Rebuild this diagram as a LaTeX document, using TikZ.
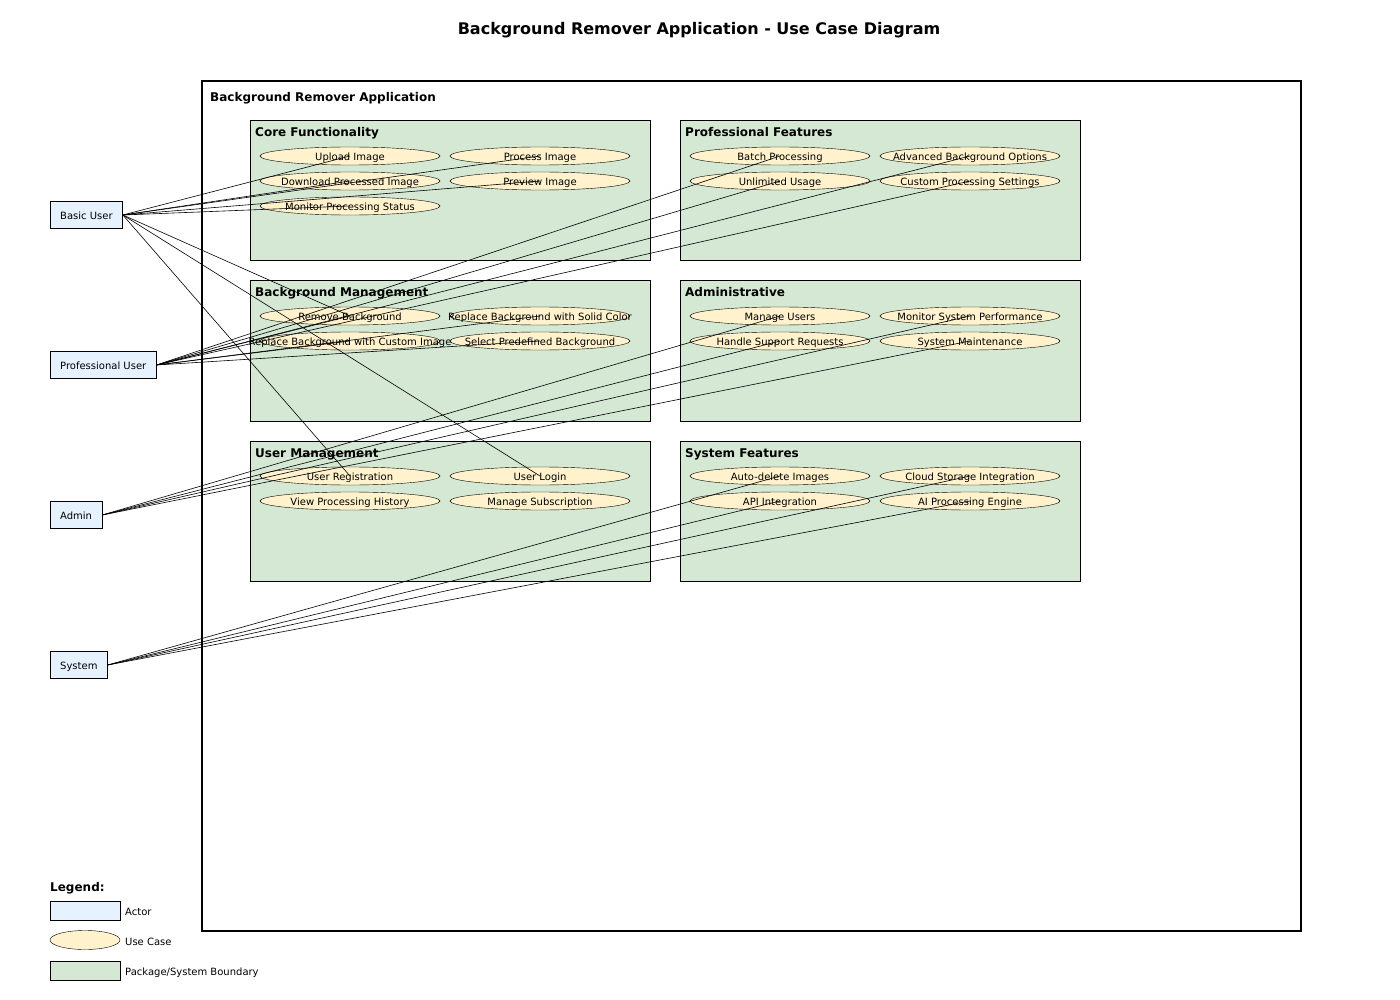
\documentclass[tikz,border=0pt]{standalone}
\usepackage{fontspec}
\setmainfont{DejaVu Sans}
\usetikzlibrary{shapes.geometric}

\definecolor{actorfill}{HTML}{E6F2FF}
\definecolor{ucfill}{HTML}{FFF2CC}
\definecolor{pkgfill}{HTML}{D5E8D4}

\tikzset{
  actor/.style={draw, fill=actorfill, anchor=west, minimum height=27, inner xsep=10, inner ysep=0pt, text height=9pt, text depth=0pt, font=\fontsize{10}{12}\selectfont},
  usecase/.style={ellipse, draw, fill=ucfill, minimum width=180, minimum height=18, inner sep=0pt, text height=9pt, text depth=0pt, font=\fontsize{10}{12}\selectfont},
  package/.style={draw, fill=pkgfill, anchor=north west, minimum width=400, minimum height=140, inner sep=0pt},
  pkgtitle/.style={anchor=base west, inner sep=0pt, font=\bfseries\fontsize{12}{14}\selectfont},
  legtext/.style={anchor=west, inner sep=0pt, text height=9pt, text depth=0pt, font=\fontsize{10}{12}\selectfont},
  assoc/.style={line width=0.6pt}
}

\begin{document}
\begin{tikzpicture}[x=1pt, y=-1pt]

\useasboundingbox (0,0) rectangle (1400,1000);

\node[anchor=base, inner sep=0pt, font=\bfseries\fontsize{16}{18}\selectfont] (title) at (699,35) {Background Remover Application - Use Case Diagram};

% system boundary
\node[draw, line width=2pt, anchor=north west, minimum width=1099, minimum height=849, inner sep=0pt] (app) at (201,80.5) {};
\node[anchor=base west, inner sep=0pt, font=\bfseries\fontsize{12}{14}\selectfont] (apptitle) at (210,101.5) {Background Remover Application};

% packages
\node[package] (pkgcore) at (250,120.5) {};
\node[pkgtitle] (coret) at (255,137) {Core Functionality};
\node[package] (pkgpro) at (680,120.5) {};
\node[pkgtitle] (prot) at (685,137) {Professional Features};
\node[package] (pkgbg) at (250,280.5) {};
\node[pkgtitle] (bgt) at (255,297) {Background Management};
\node[package] (pkgadmin) at (680,280.5) {};
\node[pkgtitle] (admint) at (685,297) {Administrative};
\node[package] (pkgusers) at (250,440.5) {};
\node[pkgtitle] (userst) at (255,457) {User Management};
\node[package] (pkgsys) at (680,440.5) {};
\node[pkgtitle] (syst) at (685,457) {System Features};

% use cases
\node[usecase] (upload) at (350,156) {\makebox[0pt]{Upload Image}};
\node[usecase] (process) at (540,156) {\makebox[0pt]{Process Image}};
\node[usecase] (download) at (350,181) {\makebox[0pt]{Download Processed Image}};
\node[usecase] (preview) at (540,181) {\makebox[0pt]{Preview Image}};
\node[usecase] (monitor) at (350,206) {\makebox[0pt]{Monitor Processing Status}};

\node[usecase] (batch) at (780,156) {\makebox[0pt]{Batch Processing}};
\node[usecase] (advanced) at (970,156) {\makebox[0pt]{Advanced Background Options}};
\node[usecase] (unlimited) at (780,181) {\makebox[0pt]{Unlimited Usage}};
\node[usecase] (settings) at (970,181) {\makebox[0pt]{Custom Processing Settings}};

\node[usecase] (remove) at (350,316) {\makebox[0pt]{Remove Background}};
\node[usecase] (solid) at (540,316) {\makebox[0pt]{Replace Background with Solid Color}};
\node[usecase] (custom) at (350,341) {\makebox[0pt]{Replace Background with Custom Image}};
\node[usecase] (predefined) at (540,341) {\makebox[0pt]{Select Predefined Background}};

\node[usecase] (manageusers) at (780,316) {\makebox[0pt]{Manage Users}};
\node[usecase] (sysperf) at (970,316) {\makebox[0pt]{Monitor System Performance}};
\node[usecase] (support) at (780,341) {\makebox[0pt]{Handle Support Requests}};
\node[usecase] (maintenance) at (970,341) {\makebox[0pt]{System Maintenance}};

\node[usecase] (register) at (350,476) {\makebox[0pt]{User Registration}};
\node[usecase] (login) at (540,476) {\makebox[0pt]{User Login}};
\node[usecase] (history) at (350,501) {\makebox[0pt]{View Processing History}};
\node[usecase] (subscription) at (540,501) {\makebox[0pt]{Manage Subscription}};

\node[usecase] (autodelete) at (780,476) {\makebox[0pt]{Auto-delete Images}};
\node[usecase] (cloud) at (970,476) {\makebox[0pt]{Cloud Storage Integration}};
\node[usecase] (api) at (780,501) {\makebox[0pt]{API Integration}};
\node[usecase] (aiengine) at (970,501) {\makebox[0pt]{AI Processing Engine}};

% actors
\node[actor] (basicuser) at (50,215) {Basic User};
\node[actor] (prouser) at (50,365) {Professional User};
\node[actor] (adminuser) at (50,515) {Admin};
\node[actor] (systemactor) at (50,665) {System};

% associations
\draw[assoc] (basicuser.east) -- (upload.center);
\draw[assoc] (basicuser.east) -- (process.center);
\draw[assoc] (basicuser.east) -- (download.center);
\draw[assoc] (basicuser.east) -- (preview.center);
\draw[assoc] (basicuser.east) -- (monitor.center);
\draw[assoc] (basicuser.east) -- (remove.center);
\draw[assoc] (basicuser.east) -- (register.center);
\draw[assoc] (basicuser.east) -- (login.center);

\draw[assoc] (prouser.east) -- (remove.center);
\draw[assoc] (prouser.east) -- (solid.center);
\draw[assoc] (prouser.east) -- (custom.center);
\draw[assoc] (prouser.east) -- (predefined.center);
\draw[assoc] (prouser.east) -- (batch.center);
\draw[assoc] (prouser.east) -- (unlimited.center);
\draw[assoc] (prouser.east) -- (advanced.center);
\draw[assoc] (prouser.east) -- (settings.center);

\draw[assoc] (adminuser.east) -- (manageusers.center);
\draw[assoc] (adminuser.east) -- (sysperf.center);
\draw[assoc] (adminuser.east) -- (support.center);
\draw[assoc] (adminuser.east) -- (maintenance.center);

\draw[assoc] (systemactor.east) -- (autodelete.center);
\draw[assoc] (systemactor.east) -- (cloud.center);
\draw[assoc] (systemactor.east) -- (api.center);
\draw[assoc] (systemactor.east) -- (aiengine.center);

% legend
\node[anchor=base west, inner sep=0pt, font=\bfseries\fontsize{12}{14}\selectfont] (legend) at (50,891.5) {Legend:};
\node[draw, fill=actorfill, anchor=north west, minimum width=70, minimum height=19, inner sep=0pt] (legactor) at (50,901) {};
\node[legtext] (legactort) at (125,911) {Actor};
\node[ellipse, draw, fill=ucfill, minimum width=70, minimum height=19, inner sep=0pt] (leguc) at (85,940) {};
\node[legtext] (leguct) at (125,941) {Use Case};
\node[draw, fill=pkgfill, anchor=north west, minimum width=70, minimum height=19, inner sep=0pt] (legpkg) at (50,961) {};
\node[legtext] (legpkgt) at (125,971) {Package/System Boundary};

\end{tikzpicture}
\end{document}
